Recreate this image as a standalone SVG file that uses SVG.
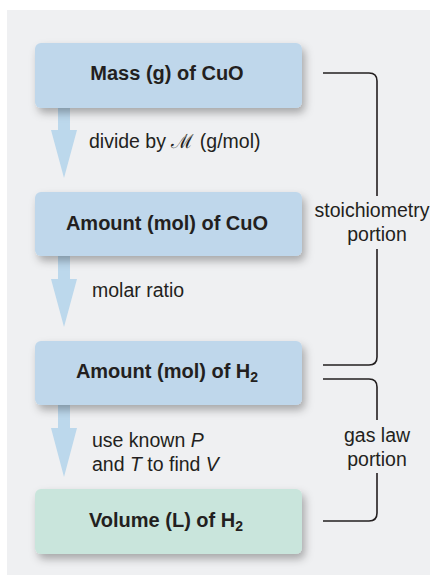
<svg xmlns="http://www.w3.org/2000/svg" width="430" height="577" viewBox="0 0 430 577">
<defs>
<filter id="sh" x="-10%" y="-20%" width="125%" height="160%">
<feDropShadow dx="3" dy="5" stdDeviation="4" flood-color="#000" flood-opacity="0.3"/>
</filter>
</defs>
<style>
.box{fill:#bfd7eb;filter:url(#sh)}
.gbox{fill:#c9e5dc;filter:url(#sh)}
.lbl{font-family:"Liberation Sans",Arial,sans-serif;font-size:20px;font-weight:bold;fill:#231f20;text-anchor:middle}
.t{font-family:"Liberation Sans",Arial,sans-serif;font-size:19.5px;fill:#231f20}
.side{font-family:"Liberation Sans",Arial,sans-serif;font-size:19.5px;fill:#231f20;text-anchor:middle}
.arr{fill:#bcd8ec}
.br{fill:none;stroke:#231f20;stroke-width:1.6}
</style>
<rect x="7" y="10" width="423" height="565" fill="#eff0f2"/>
<g id="connectors">
<path class="arr" d="M58,108 H70 V130 H77 L64,178 L51,130 H58 Z"/>
<path class="arr" d="M58,256 H70 V279 H77 L64,327 L51,279 H58 Z"/>
<path class="arr" d="M58,405 H70 V428 H77 L64,477 L51,428 H58 Z"/>
<text class="t" x="89" y="148">divide by <tspan font-family="'DejaVu Serif',serif" font-weight="300">ℳ</tspan> (g/mol)</text>
<text class="t" x="92" y="297">molar ratio</text>
<text class="t" x="92" y="447">use known <tspan font-style="italic">P</tspan></text>
<text class="t" x="92" y="471">and <tspan font-style="italic">T</tspan> to find <tspan font-style="italic">V</tspan></text>
<path class="br" d="M323,73 H369 Q377,73 377,81 V196 M377,249 V357 Q377,365 369,365 H323"/>
<path class="br" d="M323,379 H369 Q377,379 377,387 V420 M377,473 V513 Q377,521 369,521 H323"/>
<text class="side" x="372" y="217">stoichiometry</text>
<text class="side" x="377" y="241">portion</text>
<text class="side" x="377" y="442">gas law</text>
<text class="side" x="377" y="466">portion</text>
</g>
<g id="mass">
<rect class="box" x="35" y="43" width="267" height="65" rx="6"/>
<text class="lbl" x="167" y="80">Mass (g) of CuO</text>
</g>
<g id="amountCuO">
<rect class="box" x="35" y="192" width="267" height="64" rx="6"/>
<text class="lbl" x="167" y="230">Amount (mol) of CuO</text>
</g>
<g id="amountH2">
<rect class="box" x="35" y="341" width="267" height="64" rx="6"/>
<text class="lbl" x="167" y="378">Amount (mol) of H<tspan font-size="14" dy="4">2</tspan></text>
</g>
<g id="volume">
<rect class="gbox" x="35" y="489" width="267" height="65" rx="6"/>
<text class="lbl" x="166" y="527">Volume (L) of H<tspan font-size="14" dy="4">2</tspan></text>
</g>
</svg>
